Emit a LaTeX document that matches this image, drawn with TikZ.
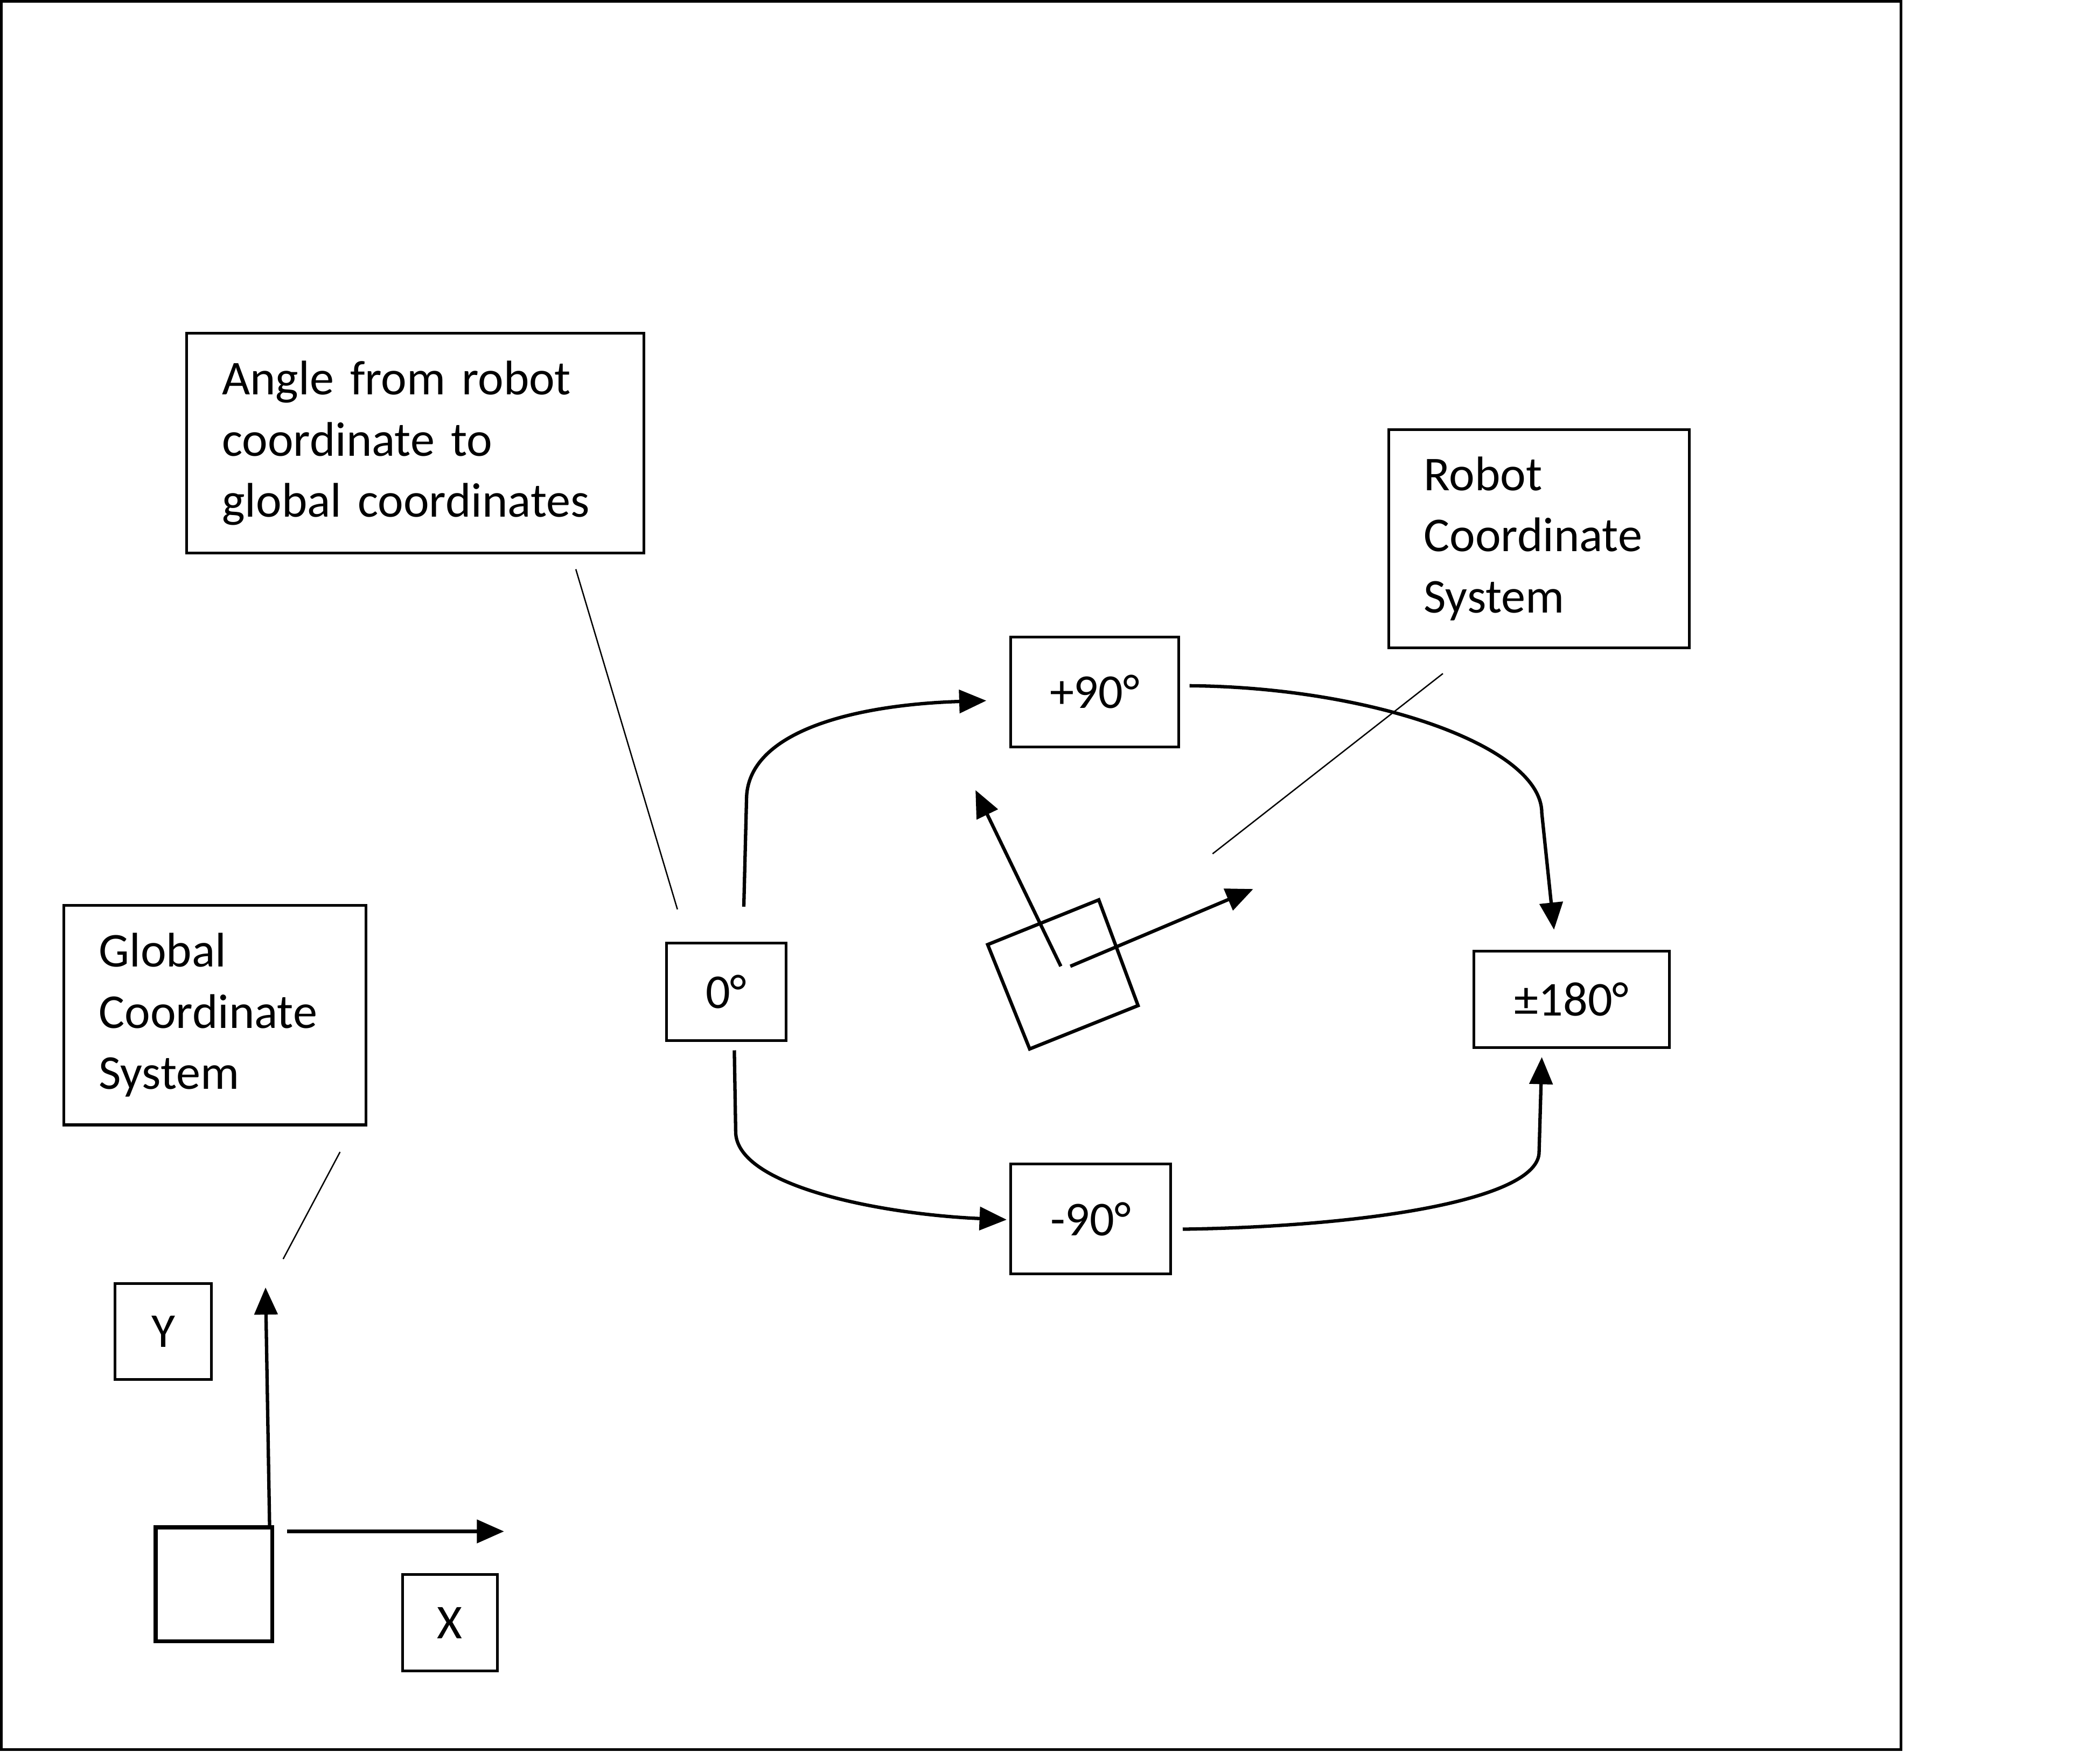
\documentclass[tikz,border=0pt]{standalone}
\usepackage{fontspec}
\setmainfont[WordSpace=0.8]{Carlito}
\usetikzlibrary{arrows.meta}
\begin{document}
\begin{tikzpicture}[x=0.01cm,y=-0.01cm,
  every node/.style={font=\fontsize{10.2}{12.8}\selectfont},
  box/.style={draw, line width=0.02cm, inner sep=0pt, align=center},
  txtbox/.style={draw, line width=0.02cm, inner xsep=0.26cm, inner ysep=0pt, align=left},
  conn/.style={line width=0.025cm, -{Triangle[length=0.2cm,width=0.17cm]}},
  callout/.style={line width=0.01cm},
  axis/.style={line width=0.025cm, -{Triangle[length=0.2cm,width=0.17cm]}}]
\useasboundingbox (0,0) rectangle (1550,1292.4);
\draw[line width=0.02cm] (1,1) rectangle (1403,1291);

% text boxes
\node[txtbox, text width=2.85cm, minimum height=1.62cm] (angle) at (306.5,327) {Angle from robot\\coordinate to\\global coordinates};
\node[txtbox, text width=1.70cm, minimum height=1.61cm] (robot) at (1136,397.5) {Robot\\Coordinate\\System};
\node[txtbox, text width=1.71cm, minimum height=1.62cm] (global) at (158.5,749) {Global\\Coordinate\\System};

% angle boxes
\node[box, minimum width=1.24cm, minimum height=0.81cm] (p90) at (808,510.5) {+90°};
\node[box, minimum width=0.88cm, minimum height=0.72cm] (zero) at (536,732) {0°};
\node[box, minimum width=1.44cm, minimum height=0.71cm] (p180) at (1160,737.5) {±180°};
\node[box, minimum width=1.18cm, minimum height=0.81cm] (m90) at (805,899.5) {-90°};
\node[box, minimum width=0.71cm, minimum height=0.71cm] (ylab) at (120.5,982.5) {Y};
\node[box, minimum width=0.70cm, minimum height=0.71cm] (xlab) at (332,1197.5) {X};

% global robot square
\node[draw, line width=0.03cm, inner sep=0pt, minimum width=0.86cm, minimum height=0.84cm] (gsq) at (158,1169) {};

% coordinates for connector ends
\coordinate (a1) at (549,669);
\coordinate (a2) at (728,517);
\coordinate (b1) at (878,506);
\coordinate (b2) at (1147,686);
\coordinate (c1) at (542,775);
\coordinate (c2) at (743,900);
\coordinate (d1) at (873,907);
\coordinate (d2) at (1138,780);
\coordinate (ang1) at (425,420);
\coordinate (ang2) at (500,671);
\coordinate (rob1) at (1065,497);
\coordinate (rob2) at (895,630);
\coordinate (glo1) at (251,850);
\coordinate (glo2) at (209,929);
\coordinate (ya) at (199,1127);
\coordinate (yb) at (196,950);
\coordinate (xa) at (212,1130);
\coordinate (xb) at (372,1130);
\coordinate (r1) at (729,697);
\coordinate (r2) at (811,664);
\coordinate (r3) at (840,742);
\coordinate (r4) at (760,774);
\coordinate (ru1) at (783,713);
\coordinate (ru2) at (720,583);
\coordinate (rr1) at (790,713);
\coordinate (rr2) at (925,656);

% connectors
\draw[conn] (a1) -- (551,590) .. controls (551,540) and (630,520) .. (a2);
\draw[conn] (b1) .. controls (1010,507) and (1138,550) .. (1138,600) -- (b2);
\draw[conn] (c1) -- (543,835) .. controls (543,875) and (650,896) .. (c2);
\draw[conn] (d1) .. controls (1010,905) and (1136,885) .. (1136,850) -- (d2);

% callouts
\draw[callout] (ang1) -- (ang2);
\draw[callout] (rob1) -- (rob2);
\draw[callout] (glo1) -- (glo2);

% global axes
\draw[axis] (ya) -- (yb);
\draw[axis] (xa) -- (xb);

% rotated robot
\draw[line width=0.025cm] (r1) -- (r2) -- (r3) -- (r4) -- cycle;
\draw[axis] (ru1) -- (ru2);
\draw[axis] (rr1) -- (rr2);
\end{tikzpicture}
\end{document}
